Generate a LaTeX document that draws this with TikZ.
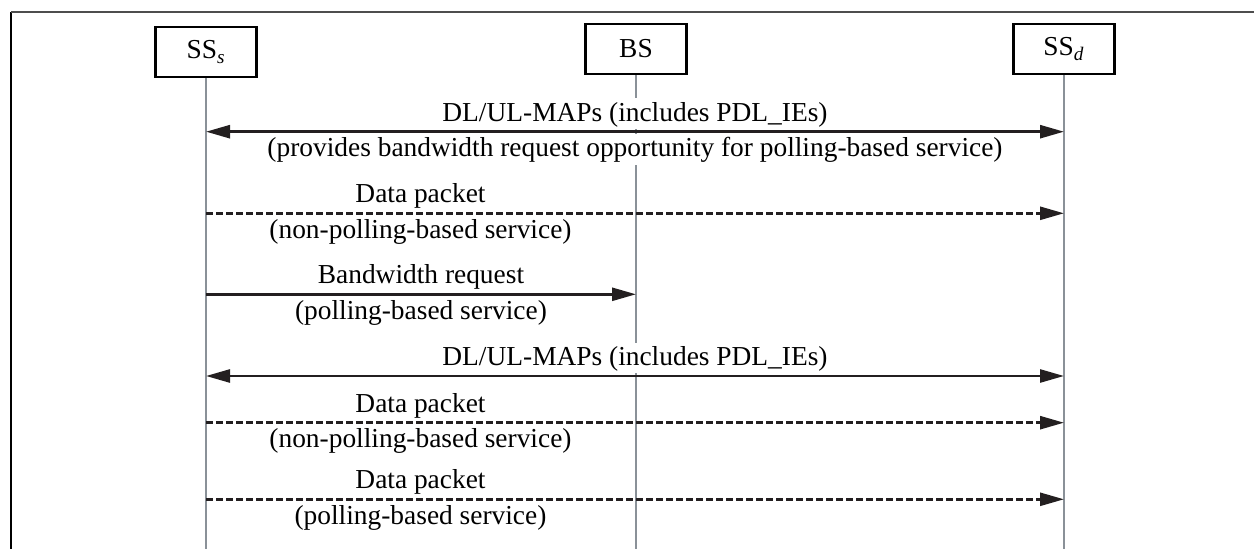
\documentclass[tikz,border=0pt]{standalone}
\usepackage{fontspec}
\setmainfont{Liberation Serif}
\usetikzlibrary{arrows.meta,positioning}
\definecolor{lifegray}{HTML}{8A9198}
\definecolor{framegray}{HTML}{4D4D4D}
\definecolor{msgblack}{HTML}{231F20}
\tikzset{station/.style={rectangle,draw,fill=white,line width=1.2pt,minimum width=50.5pt,minimum height=25pt,inner sep=0pt},
lifeline/.style={draw=lifegray,line width=1.2pt},
}
\tikzstyle{msg}=[draw=msgblack,line width=1.3pt,->]
\tikzstyle{msgdash}=[msg,dash pattern=on 3.3pt off 1.7pt]
\tikzstyle{lblup}=[fill=white,inner sep=0.5pt,text height=10.9pt,text depth=3.4pt,above=0.7pt]
\tikzstyle{lbldown}=[fill=white,inner sep=0.5pt,text height=10.9pt,text depth=3.4pt,below=0.6pt]

\begin{document}
\begin{tikzpicture}[x=0.5pt,y=-0.5pt,>={Triangle[length=12pt,width=6.5pt]},
  every node/.style={font=\fontsize{13.7pt}{16pt}\selectfont}]
	\useasboundingbox (0,0) rectangle (1254,549);
	% frame
	\draw[black,line width=1pt] (11,12) -- (11,549);
	\draw[framegray,line width=1pt] (11,12) -- (1254,12);

	\node[station] (sss) at (206,52) {SS\textsubscript{\textit{s}}};
	\node[station] (bs) at (636,49) {BS};
	\node[station] (ssd) at (1064,49) {SS\textsubscript{\textit{d}}};
	\coordinate (sssend) at (206,549);
	\coordinate (bsend) at (636,549);
	\coordinate (ssdend) at (1064,549);

	\path[lifeline]
	(sss) edge (sssend)
	(bs) edge (bsend)
	(ssd) edge (ssdend)
	;

	\draw[msg,<->] (sss |- 0,131.7) -- (ssd |- 0,131.7)
		node[midway,lblup] {DL/UL-MAPs (includes PDL\_IEs)}
		node[midway,lbldown] {(provides bandwidth request opportunity for polling-based service)};
	\draw[msgdash] (sss |- 0,213.3) -- (ssd |- 0,213.3)
		node[pos=0.25,lblup] {Data packet}
		node[pos=0.25,lbldown] {(non-polling-based service)};
	\draw[msg] (sss |- 0,294.3) -- (bs |- 0,294.3)
		node[midway,lblup] {Bandwidth request}
		node[midway,lbldown] {(polling-based service)};
	\draw[msg,<->] (sss |- 0,376) -- (ssd |- 0,376)
		node[midway,lblup] {DL/UL-MAPs (includes PDL\_IEs)};
	\draw[msgdash] (sss |- 0,422.7) -- (ssd |- 0,422.7)
		node[pos=0.25,lblup] {Data packet}
		node[pos=0.25,lbldown] {(non-polling-based service)};
	\draw[msgdash] (sss |- 0,499.3) -- (ssd |- 0,499.3)
		node[pos=0.25,lblup] {Data packet}
		node[pos=0.25,lbldown] {(polling-based service)};
\end{tikzpicture}
\end{document}
